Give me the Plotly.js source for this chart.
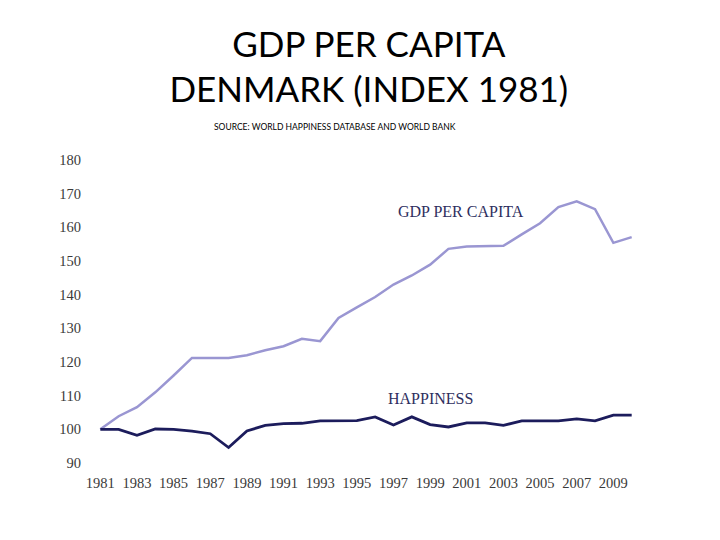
<!DOCTYPE html>
<html>
<head>
<meta charset="utf-8">
<script src="https://cdn.plot.ly/plotly-3.0.1.min.js"></script>
<style>html,body{margin:0;padding:0;background:#fff;}#chart{width:720px;height:540px;}</style>
</head>
<body>
<div id="chart"></div>
<script>
var years = [1981,1982,1983,1984,1985,1986,1987,1988,1989,1990,1991,1992,1993,1994,1995,1996,1997,1998,1999,2000,2001,2002,2003,2004,2005,2006,2007,2008,2009,2010];
var gdpPerCapita = [100,103.9,106.6,111,116,121.2,121.2,121.2,122,123.5,124.7,126.9,126.2,133.1,136.2,139.3,143.0,145.7,148.9,153.6,154.3,154.5,154.5,157.9,161.2,166.0,167.7,165.4,155.4,157.1];
var happiness = [100,100,98.2,100.1,100,99.5,98.7,94.6,99.5,101.2,101.7,101.8,102.5,102.5,102.6,103.7,101.3,103.7,101.4,100.7,101.9,101.9,101.2,102.5,102.5,102.5,103.1,102.5,104.2,104.2];
var xTickVals = [1981,1983,1985,1987,1989,1991,1993,1995,1997,1999,2001,2003,2005,2007,2009];
var yTickVals = [90,100,110,120,130,140,150,160,170,180];

var traces = [
  {x: years, y: gdpPerCapita, type: 'scatter', mode: 'lines', name: 'GDP PER CAPITA',
   line: {color: '#9a96d2', width: 2.5}},
  {x: years, y: happiness, type: 'scatter', mode: 'lines', name: 'HAPPINESS',
   line: {color: '#1c1c5c', width: 2.8}}
];

var layout = {
  width: 720, height: 540,
  paper_bgcolor: '#ffffff', plot_bgcolor: '#ffffff',
  showlegend: false,
  margin: {l: 82, r: 70, t: 160, b: 77},
  title: {
    text: 'GDP PER CAPITA<br>DENMARK (INDEX 1981)',
    font: {family: 'Lato, "Open Sans", sans-serif', size: 35, color: '#000000'},
    x: 0.505, xanchor: 'center', xref: 'paper',
    y: 0.895, yanchor: 'top', yref: 'container'
  },
  xaxis: {
    range: [1980, 2011], tickvals: xTickVals, ticktext: xTickVals.map(String),
    showgrid: false, zeroline: false, showline: false, ticks: '',
    ticklabelstandoff: 9,
    tickfont: {family: '"Liberation Serif", serif', size: 14.5, color: '#3a3a3a'}
  },
  yaxis: {
    range: [90, 180], tickvals: yTickVals, ticktext: yTickVals.map(String),
    showgrid: false, zeroline: false, showline: false, ticks: '',
    ticklabelstandoff: 0,
    tickfont: {family: '"Liberation Serif", serif', size: 14.5, color: '#3a3a3a'}
  },
  annotations: [
    {text: 'SOURCE: WORLD HAPPINESS DATABASE AND WORLD BANK', xref: 'paper', yref: 'paper',
     x: (335 - 82) / 568, y: 1 + (160 - 127) / 303, xanchor: 'center', yanchor: 'middle',
     showarrow: false, font: {family: 'Lato, "Open Sans", sans-serif', size: 8.5, color: '#000000'}},
    {text: 'GDP PER CAPITA', xref: 'x', yref: 'y', x: 2000.7, y: 164.7, showarrow: false,
     font: {family: '"Liberation Serif", serif', size: 16, color: '#2e2e5e'}},
    {text: 'HAPPINESS', xref: 'x', yref: 'y', x: 1999.0, y: 109.2, showarrow: false,
     font: {family: '"Liberation Serif", serif', size: 16, color: '#2e2e5e'}}
  ]
};

Plotly.newPlot('chart', traces, layout, {displayModeBar: false, staticPlot: true});
</script>
</body>
</html>
